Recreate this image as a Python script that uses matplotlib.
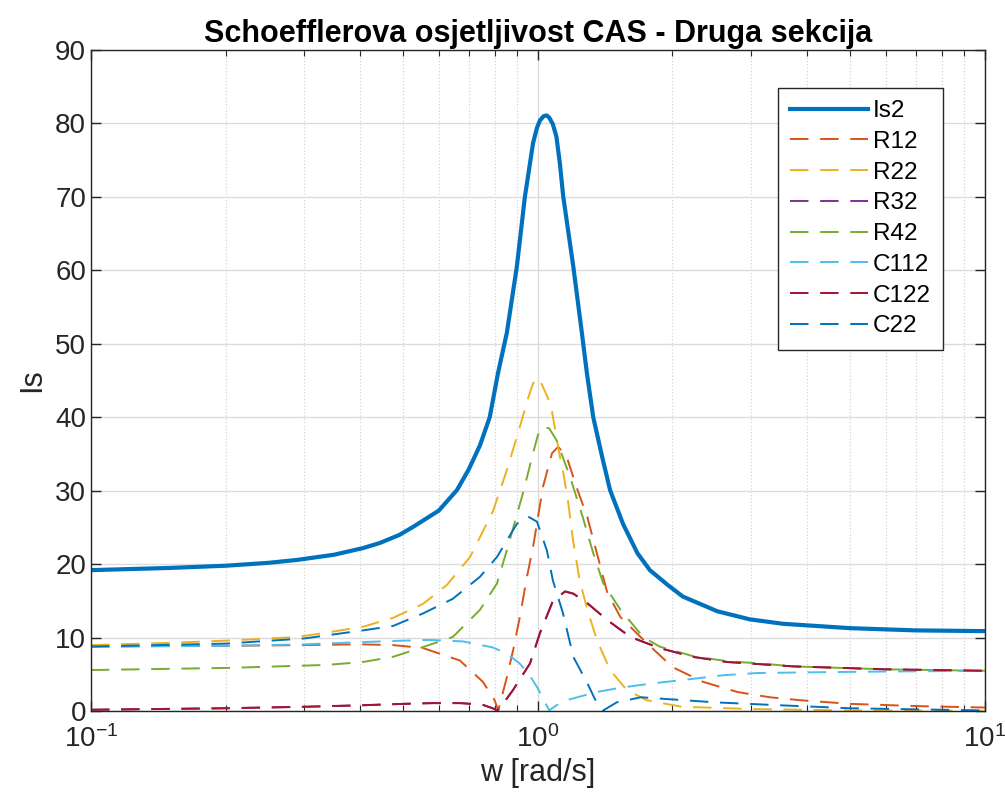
import numpy as np
import matplotlib
matplotlib.use("Agg")
import matplotlib.pyplot as plt
from matplotlib.ticker import LogLocator, NullFormatter, MultipleLocator

plt.rcParams['font.family'] = ['Liberation Sans', 'DejaVu Sans']
plt.rcParams['mathtext.default'] = 'regular'

# ---- data ----
w_is2 = [0.1, 0.15, 0.2, 0.25, 0.29, 0.35, 0.406, 0.443, 0.49, 0.526, 0.6, 0.659, 0.70, 0.742, 0.78, 0.814,
         0.852, 0.897, 0.935, 0.975, 0.995, 1.01, 1.03, 1.046, 1.06, 1.08, 1.10, 1.12, 1.139, 1.2, 1.254,
         1.287, 1.33, 1.39, 1.45, 1.55, 1.67, 1.78, 1.95, 2.11, 2.52, 2.98, 3.53, 5.0, 7.0, 10.0]
is2 = [19.2, 19.5, 19.8, 20.2, 20.6, 21.3, 22.2, 22.9, 24.0, 25.1, 27.3, 30.1, 32.9, 36.2, 40.0, 46.0,
       51.5, 60.5, 70.0, 77.3, 79.4, 80.4, 81.0, 81.1, 80.8, 79.9, 78.2, 74.5, 70.1, 60.5, 51.5,
       46.0, 40.0, 34.8, 30.1, 25.5, 21.5, 19.2, 17.2, 15.6, 13.6, 12.5, 11.9, 11.3, 11.0, 10.9]

w_r12 = [0.1, 0.2, 0.3, 0.4, 0.474, 0.553, 0.669, 0.753, 0.80, 0.815, 0.852, 0.88, 0.911, 0.945, 0.975,
         1.026, 1.075, 1.11, 1.16, 1.22, 1.29, 1.355, 1.43, 1.53, 1.75, 2.0, 2.34, 2.8, 3.3, 3.85, 5.0, 7.0, 10.0]
r12 = [8.8, 8.9, 9.0, 9.1, 9.0, 8.6, 6.9, 4.0, 1.5, 0.1, 4.6, 8.3, 12.8, 18.3, 22.3,
       30.5, 35.1, 36.0, 34.6, 30.5, 26.4, 21.5, 16.1, 12.8, 9.3, 6.0, 4.0, 2.6, 1.9, 1.5, 1.0, 0.7, 0.5]

w_r22 = [0.1, 0.15, 0.2, 0.25, 0.289, 0.337, 0.406, 0.474, 0.553, 0.626, 0.705, 0.793, 0.852, 0.911, 0.955,
         0.975, 0.99, 1.005, 1.02, 1.05, 1.075, 1.12, 1.137, 1.167, 1.198, 1.24, 1.29, 1.355, 1.45, 1.58,
         1.75, 2.1, 3.0, 5.0, 10.0]
r22 = [9.0, 9.3, 9.6, 9.9, 10.1, 10.7, 11.5, 12.7, 14.6, 17.2, 21.0, 27.2, 32.8, 38.7, 43.0,
       44.6, 45.3, 45.2, 44.5, 42.8, 40.8, 34.6, 32.8, 28.7, 23.3, 17.8, 13.8, 9.7, 5.6, 2.9,
       1.5, 0.6, 0.3, 0.1, 0.05]

w_r32 = [0.1, 0.2, 0.3, 0.4, 0.5, 0.58, 0.67, 0.75, 0.80, 0.81, 0.84, 0.88, 0.96, 1.01, 1.08, 1.15, 1.2,
         1.29, 1.43, 1.61, 1.87, 2.22, 2.65, 3.14, 3.72, 4.2, 6.0, 10.0]
r32 = [0.2, 0.4, 0.6, 0.8, 1.0, 1.1, 1.1, 0.9, 0.3, 0.05, 1.2, 2.9, 6.5, 10.6, 15.0, 16.3, 16.0,
       14.7, 12.4, 10.1, 8.6, 7.4, 6.7, 6.4, 6.1, 6.0, 5.7, 5.5]

w_r42 = [0.1, 0.205, 0.337, 0.406, 0.474, 0.545, 0.645, 0.742, 0.81, 0.852, 0.926, 0.975, 1.0, 1.026, 1.06,
         1.10, 1.18, 1.26, 1.33, 1.40, 1.53, 1.72, 1.87, 2.22, 2.65, 3.14, 3.72, 4.2, 6.0, 10.0]
r42 = [5.6, 5.9, 6.3, 6.7, 7.4, 8.6, 10.1, 13.8, 17.4, 21.9, 29.7, 35.1, 37.6, 38.7, 38.5,
       36.9, 31.9, 26.4, 21.5, 17.4, 13.8, 10.1, 8.8, 7.5, 6.8, 6.5, 6.1, 6.0, 5.7, 5.5]

w_c112 = [0.1, 0.2, 0.3, 0.4, 0.5, 0.573, 0.68, 0.79, 0.85, 0.91, 0.96, 0.995, 1.03, 1.06, 1.1, 1.16,
          1.35, 1.53, 1.81, 2.08, 2.6, 3.1, 4.2, 6.0, 10.0]
c112 = [8.8, 8.9, 9.1, 9.4, 9.6, 9.7, 9.5, 8.7, 7.9, 6.5, 4.8, 3.3, 1.6, 0.1, 0.8, 1.5,
        2.6, 3.2, 3.8, 4.2, 4.9, 5.2, 5.3, 5.4, 5.5]

w_c122 = [0.1, 0.2, 0.3, 0.4, 0.5, 0.58, 0.67, 0.75, 0.80, 0.81, 0.84, 0.88, 0.96, 1.01, 1.08, 1.15, 1.2,
          1.29, 1.43, 1.61, 1.87, 2.22, 2.65, 3.14, 3.72, 4.2, 6.0, 10.0]
c122 = [0.2, 0.4, 0.6, 0.8, 1.0, 1.1, 1.1, 0.9, 0.3, 0.05, 1.2, 2.9, 6.5, 10.6, 15.0, 16.3, 16.0,
        14.7, 12.4, 10.1, 8.6, 7.4, 6.7, 6.4, 6.1, 6.0, 5.7, 5.5]

w_c22 = [0.1, 0.2, 0.3, 0.406, 0.474, 0.553, 0.645, 0.742, 0.81, 0.897, 0.95, 0.995, 1.047, 1.08, 1.137,
         1.2, 1.29, 1.355, 1.4, 1.5, 1.7, 2.0, 2.5, 3.5, 5.0, 10.0]
c22 = [8.8, 9.2, 9.9, 11.0, 11.6, 13.3, 15.3, 18.3, 21.0, 25.5, 26.5, 25.8, 21.9, 17.8, 13.4,
       7.4, 3.8, 1.1, 0.1, 1.2, 1.9, 1.6, 1.2, 0.8, 0.4, 0.1]

series = [
    ("Is2", w_is2, is2, "#0072BD", "-", 3.0),
    ("R12", w_r12, r12, "#D95319", "--", 1.4),
    ("R22", w_r22, r22, "#EDB120", "--", 1.4),
    ("R32", w_r32, r32, "#7E2F8E", "--", 1.4),
    ("R42", w_r42, r42, "#77AC30", "--", 1.4),
    ("C112", w_c112, c112, "#4DBEEE", "--", 1.4),
    ("C122", w_c122, c122, "#A2142F", "--", 1.4),
    ("C22", w_c22, c22, "#0072BD", "--", 1.4),
]

fig = plt.figure(figsize=(10.05, 8.0), dpi=100)
ax = fig.add_axes([0.0905, 0.111, 0.8895, 0.8265])

for name, x, y, col, ls, lw in series:
    if ls == "--":
        ax.plot(x, y, color=col, linewidth=lw, label=name, dashes=(9.5, 6))
    else:
        ax.plot(x, y, color=col, linestyle=ls, linewidth=lw, label=name)

ax.set_xscale("log")
ax.set_xlim(0.1, 10)
ax.set_ylim(0, 90)
ax.yaxis.set_major_locator(MultipleLocator(10))
ax.xaxis.set_major_locator(LogLocator(base=10, numticks=10))
ax.xaxis.set_minor_locator(LogLocator(base=10, subs=np.arange(2, 10), numticks=20))
ax.xaxis.set_minor_formatter(NullFormatter())

ax.grid(True, which="major", color="#dcdcdc", linewidth=1.0, linestyle="-")
ax.grid(True, which="minor", axis="x", color="#d4d4d4", linewidth=0.9, linestyle=":")
ax.set_axisbelow(True)

ax.tick_params(which="both", direction="in", top=True, right=True, labelsize=20, colors="#262626")
ax.tick_params(which="major", length=7, width=1.0)
ax.tick_params(which="minor", length=4, width=0.8)
ax.tick_params(axis="x", pad=10)
for s in ax.spines.values():
    s.set_color("#262626")
    s.set_linewidth(1.0)

ax.set_title("Schoefflerova osjetljivost CAS - Druga sekcija", fontsize=22, fontweight="bold", pad=6)
ax.set_xlabel("w [rad/s]", fontsize=22, color="#262626", labelpad=4)
ax.set_ylabel("Is", fontsize=22, color="#262626", labelpad=6)

leg = ax.legend(loc="upper right", bbox_to_anchor=(0.967, 0.961), fontsize=17.5, handlelength=3.2,
                labelspacing=0.36, handletextpad=0.2, borderpad=0.5, fancybox=False,
                framealpha=1, edgecolor="#262626")
leg.get_frame().set_linewidth(1.0)

fig.savefig("out.png", dpi=100)
